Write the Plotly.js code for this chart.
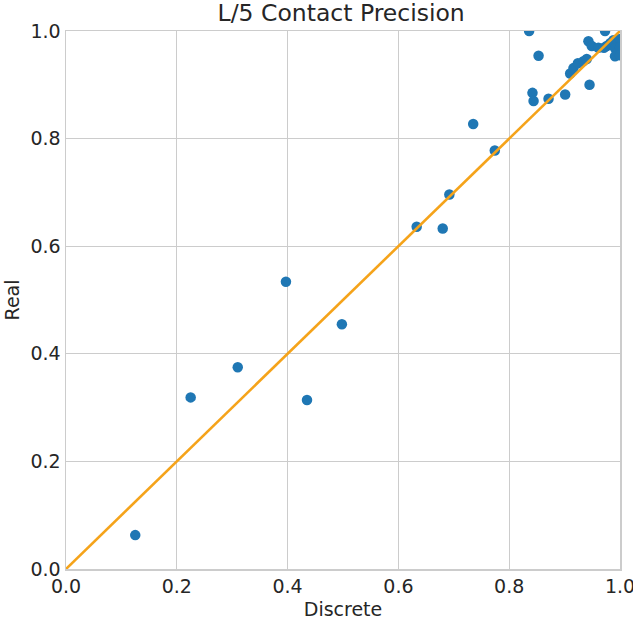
<!DOCTYPE html>
<html>
<head>
<meta charset="utf-8">
<script src="https://cdn.plot.ly/plotly-3.0.1.min.js"></script>
<style>html,body{margin:0;padding:0;background:#fff;}#chart{width:633px;height:620px;}</style>
</head>
<body>
<div id="chart"></div>
<script>
const discrete = [0.125, 0.225, 0.310, 0.397, 0.435, 0.498, 0.633, 0.680, 0.692, 0.735, 0.774, 0.836, 0.842, 0.844, 0.853, 0.871, 0.901, 0.910, 0.916, 0.924, 0.934, 0.940, 0.945, 0.943, 0.949, 0.961, 0.971, 0.973, 0.976, 0.982, 0.988, 0.991, 0.991, 1.0, 1.0, 1.0];
const real = [0.063, 0.319, 0.375, 0.534, 0.314, 0.455, 0.636, 0.633, 0.696, 0.827, 0.778, 1.0, 0.885, 0.870, 0.954, 0.874, 0.882, 0.921, 0.931, 0.940, 0.944, 0.948, 0.900, 0.981, 0.972, 0.969, 0.969, 1.0, 0.972, 0.977, 0.983, 0.968, 0.953, 0.985, 0.970, 0.955];
const diagX = [0, 1];
const diagY = [0, 1];
const tickVals = [0, 0.2, 0.4, 0.6, 0.8, 1.0];
const tickText = ["0.0", "0.2", "0.4", "0.6", "0.8", "1.0"];

const font = "DejaVu Sans, sans-serif";
const traces = [
  {x: discrete, y: real, type: 'scatter', mode: 'markers', cliponaxis: true,
   marker: {color: '#1f77b4', size: 10.5}, hoverinfo: 'x+y'},
  {x: diagX, y: diagY, type: 'scatter', mode: 'lines', cliponaxis: true,
   line: {color: '#f5a31a', width: 2.6}}
];
const axisCommon = {
  range: [0, 1], tickvals: tickVals, ticktext: tickText,
  showgrid: true, gridcolor: '#cccccc', gridwidth: 1.2,
  zeroline: false, showline: true, linecolor: '#cccccc', linewidth: 1.5, mirror: true,
  ticks: '', tickfont: {family: font, size: 19, color: '#262626'},
  ticklabeloverflow: 'allow',
  automargin: false, fixedrange: true
};
const layout = {
  width: 633, height: 620,
  margin: {l: 66, r: 13, t: 31, b: 51},
  paper_bgcolor: '#ffffff', plot_bgcolor: '#ffffff',
  showlegend: false,
  title: {text: 'L/5 Contact Precision', font: {family: font, size: 23.5, color: '#262626'},
          x: 0.539, xanchor: 'center', y: 0.979, yanchor: 'middle', yref: 'container'},
  xaxis: Object.assign({}, axisCommon, {
    title: {text: 'Discrete', font: {family: font, size: 19, color: '#262626'}, standoff: 7}
  }),
  yaxis: Object.assign({}, axisCommon, {
    title: {text: 'Real', font: {family: font, size: 19, color: '#262626'}, standoff: 6}
  })
};
Plotly.newPlot('chart', traces, layout, {displayModeBar: false, staticPlot: true});
</script>
</body>
</html>
